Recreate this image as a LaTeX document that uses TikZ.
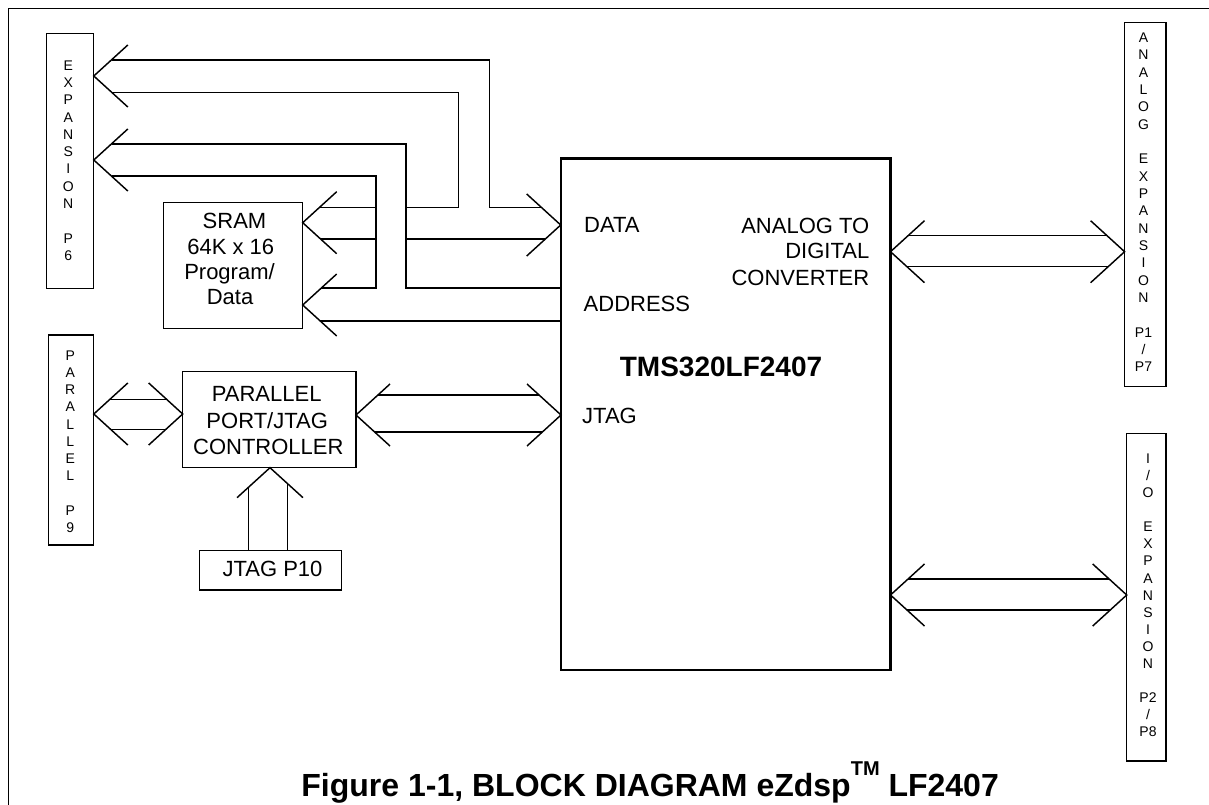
\documentclass[tikz,border=0pt]{standalone}
\usepackage{fontspec}
\setmainfont{Liberation Sans}
% chevron bus heads: L = points left, R = points right, U = points up
\newcommand\chevL[1]{\draw (#1) ++(34,-31) -- (#1) -- ++(34,31);}
\newcommand\chevR[1]{\draw (#1) ++(-34,-31) -- (#1) -- ++(-34,31);}
\newcommand\chevU[1]{\draw (#1) ++(-33,30) -- (#1) -- ++(33,30);}
\begin{document}
\begin{tikzpicture}[x=1pt,y=-1pt,line width=1.45pt,line join=miter,
  box/.style={draw,line width=1.5pt,inner sep=0pt,outer sep=0pt},
  lbl/.style={font=\fontsize{22}{26}\selectfont,inner sep=0pt},
  vt/.style={font=\fontsize{14}{17}\selectfont,inner sep=0pt},
  thickbus/.style={line width=2.5pt}]
\useasboundingbox (0,0) rectangle (1209,805);
\fill[white] (0,0) rectangle (1209,805);
% frame
\coordinate (fbl) at (8.4,805);
\coordinate (ftl) at (8.4,8.3);
\coordinate (ftr) at (1209,8.3);
\draw[line width=1.4pt] (fbl) -- (ftl) -- (ftr);

% ---- boxes
\node[box,minimum width=46.6pt,minimum height=255pt] (p6) at (70,160.8) {};
\node[box,minimum width=45pt,minimum height=210pt] (p9) at (70.8,440) {};
\node[box,minimum width=41.2pt,minimum height=364.4pt] (ana) at (1145.2,204.5) {};
\node[box,minimum width=39.3pt,minimum height=327.7pt] (io) at (1146.35,597.15) {};
\node[box,minimum width=139.4pt,minimum height=125.6pt] (sram) at (233,265.5) {};
\node[box,minimum width=173.3pt,minimum height=96pt] (ctrl) at (269.35,419.7) {};
\node[box,minimum width=142.4pt,minimum height=39.3pt] (p10) at (270.5,570.35) {};
\node[box,line width=2.5pt,minimum width=329.3pt,minimum height=511.7pt] (chip) at (725.65,414.15) {};

% ---- vertical connector texts
\foreach \c [count=\i from 0] in {E,X,P,A,N,S,I,O,N,{},P,6}
  \node[vt] (p6l\i) at ({68.3},{65.5+\i*17.27}) {\c};
\foreach \c [count=\i from 0] in {P,A,R,A,L,L,E,L,{},P,9}
  \node[vt] (p9l\i) at ({70.3},{355.5+\i*17.2}) {\c};
\foreach \c [count=\i from 0] in {A,N,A,L,O,G,{},E,X,P,A,N,S,I,O,N,{},P1,/,P7}
  \node[vt] (anal\i) at ({1143.5},{37.6+\i*17.34}) {\c};
\foreach \c [count=\i from 0] in {I,/,O,{},E,X,P,A,N,S,I,O,N,{},P2,/,P8}
  \node[vt] (iol\i) at ({1148},{458.6+\i*17.09}) {\c};

% ---- block texts
\node[lbl,anchor=base] (s1) at (234.5,228.3) {SRAM};
\node[lbl,anchor=base] (s2) at (230.8,254) {64K x 16};
\node[lbl,anchor=base] (s3) at (229.5,279.5) {Program/};
\node[lbl,anchor=base] (s4) at (230,304) {Data};
\node[lbl,anchor=base] (c1) at (266.7,401.7) {PARALLEL};
\node[lbl,anchor=base] (c2) at (267.2,428.3) {PORT/JTAG};
\node[lbl,anchor=base] (c3) at (268.3,454) {CONTROLLER};
\node[lbl,anchor=base] (j10) at (272.5,576.7) {JTAG P10};
\node[lbl,anchor=base west] (data) at (583.5,232) {DATA};
\node[lbl,anchor=base west] (addr) at (583,311.5) {ADDRESS};
\node[lbl,anchor=base west] (jtag) at (581.5,423) {JTAG};
\node[lbl,anchor=base east] (adc1) at (870,233.3) {ANALOG TO};
\node[lbl,anchor=base east] (adc2) at (870,258.3) {DIGITAL};
\node[lbl,anchor=base east] (adc3) at (870,285) {CONVERTER};
\node[anchor=base,font=\fontsize{28}{32}\selectfont\bfseries,inner sep=0pt] (tms) at (721,376.7) {TMS320LF2407};
\node[anchor=base west,font=\fontsize{32}{36}\selectfont\bfseries,inner sep=0pt] (cap) at (300.7,796)
  {Figure 1-1, BLOCK DIAGRAM eZdsp\raisebox{21pt}{\fontsize{20}{20}\selectfont TM} LF2407};

% ---- arrow tips
\coordinate (tp6a) at (93.8,76);
\coordinate (tp6b) at (93.8,160);
\coordinate (tsd) at (302.7,222.7);
\coordinate (tsa) at (302.7,305);
\coordinate (tdat) at (560.7,225);
\coordinate (tp9) at (93.8,414);
\coordinate (tcl) at (182.7,414);
\coordinate (tcr) at (356,415);
\coordinate (tjt) at (561,415);
\coordinate (tadl) at (890.5,251.7);
\coordinate (tadr) at (1124.6,251.7);
\coordinate (tiol) at (890.5,595);
\coordinate (tior) at (1126.7,595);
\coordinate (tup) at (270,467.7);
\chevL{tp6a} \chevL{tp6b} \chevL{tsd} \chevL{tsa} \chevR{tdat}
\chevL{tp9} \chevR{tcl} \chevL{tcr} \chevR{tjt}
\chevL{tadl} \chevR{tadr} \chevL{tiol} \chevR{tior}
\chevU{tup}

% ---- named ends on the chip and JTAG P10 box
\coordinate (ca1) at (561,288);
\coordinate (ca2) at (561,321);
\coordinate (pj1) at (248.3,550.7);
\coordinate (pj2) at (287.7,550.7);

% ---- bus lines (data / address)
\draw (111.5,60) -- (489.5,60) -- (489.5,207.5) -- (541.3,207.5);
\draw (112.1,92.5) -- (458.5,92.5) -- (458.5,207.5) -- (406,207.5);
\draw (111.5,144) -- (406,144) -- (406,288) -- (ca1);
\draw (111.5,176) -- (376,176) -- (376,288) -- (321.3,288);
\draw (319.6,207.5) -- (376,207.5);
\draw (320.6,239) -- (376,239);
\draw (406,239) -- (545.3,239);
\draw (320.2,321) -- (ca2);
% parallel
\draw (110.1,399.3) -- (166.4,399.3);
\draw (110.1,429.3) -- (166.4,429.3);
% controller to JTAG
\draw[thickbus] (377.9,395) -- (539.1,395);
\draw[thickbus] (374.6,432) -- (542.4,432);
% JTAG P10 up
\draw (248.3,487.4) -- (pj1);
\draw (287.7,483.8) -- (pj2);
% ADC
\draw (908.5,235.3) -- (1106.6,235.3);
\draw (906.9,266.7) -- (1108.2,266.7);
% I/O
\draw (908,579) -- (1109.2,579);
\draw (906.9,610) -- (1110.3,610);
\end{tikzpicture}
\end{document}
